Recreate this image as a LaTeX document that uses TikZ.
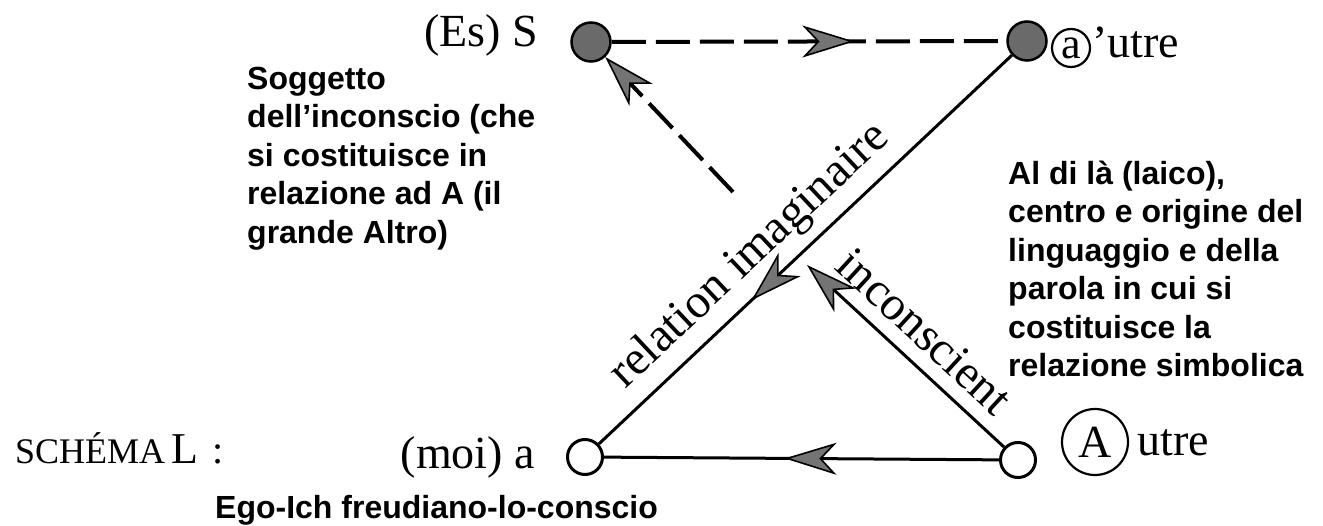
\documentclass[tikz,border=0pt]{standalone}
\usepackage{fontspec}
\setmainfont{Liberation Serif}
\newfontfamily\boldsans{Liberation Sans}
\usetikzlibrary{arrows.meta,decorations.markings}
\definecolor{dotgrey}{HTML}{6A6A6A}
\definecolor{tipgrey}{HTML}{747474}
\tikzset{
  bigtip/.tip={Stealth[length=52pt,width=32pt,inset=15pt,line width=1.6pt,fill=tipgrey]},
}
\begin{document}
\begin{tikzpicture}[x=1pt,y=-1pt,
  dotnode/.style={circle,draw=black,line width=2.5pt,fill=dotgrey,minimum size=39pt,inner sep=0pt},
  opennode/.style={circle,draw=black,line width=3pt,fill=white,minimum size=35pt,inner sep=0pt},
  dashline/.style={draw=black,line width=4pt,dash pattern=on 34pt off 10pt},
  solidline/.style={draw=black,line width=3pt},
  sertext/.style={font=\fontsize{46}{46}\selectfont,inner sep=0pt},
  rottext/.style={font=\fontsize{48}{48}\selectfont,inner sep=0pt},
  ringed/.style={circle,draw=black,line width=2.2pt,inner sep=0pt},
  notetext/.style={font=\boldsans\bfseries\fontsize{32}{38.5}\selectfont,inner sep=0pt,align=left},
]
\useasboundingbox (0,0) rectangle (1323,526);

% main nodes
\node[dotnode] (S) at (591,42) {};
\node[dotnode] (ap) at (1027,41) {};
\node[opennode] (m) at (585,457) {};
\node[opennode] (A) at (1018,460) {};
\coordinate (d1) at (733,192);
\coordinate (i1) at (807,265);

% connectors
\draw[dashline,postaction={decorate},
  decoration={markings,mark=at position 0.615 with {\arrow{bigtip}}}] (S) -- (ap);
\draw[dashline,-{bigtip}] (d1) -- (S);
\draw[solidline,postaction={decorate},
  decoration={markings,mark=at position 0.63 with {\arrow{bigtip}}}] (ap) -- (m);
\draw[solidline,postaction={decorate},
  decoration={markings,mark=at position 0.543 with {\arrow{bigtip}}}] (A) -- (m);
\draw[solidline,-{bigtip}] (A) -- (i1);

% serif labels
\node[sertext,anchor=base east] (tS) at (538,47) {(Es) S};
\node[ringed,minimum size=38pt,font=\fontsize{44}{44}\selectfont] (ca) at (1071,48) {a};
\node[sertext,anchor=base west] (tau) at (1092,58) {’utre};
\node[ringed,minimum size=66pt,font=\fontsize{46}{46}\selectfont] (cA) at (1095,442) {A};
\node[sertext,anchor=base west] (tAu) at (1137,456) {utre};
\node[sertext,anchor=base east] (tm) at (535,468) {(moi) a};
\node[sertext,anchor=base west] (schema) at (15,464)
  {{\fontsize{36}{36}\selectfont SCHÉMA}\hspace{6pt}{\fontsize{44}{44}\selectfont L}\hspace{14pt}{\fontsize{40}{40}\selectfont :}};

% rotated labels
\node[rottext,anchor=base,rotate=43.26] (rel) at (758,265) {relation imaginaire};
\node[rottext,anchor=base,rotate=-42.7] (inc) at (914,343) {inconscient};

% notes
\node[notetext,anchor=north west] (n1) at (247,66.5)
  {Soggetto\\dell’inconscio (che\\si costituisce in\\relazione ad A (il\\grande Altro)};
\node[notetext,anchor=north west] (n2) at (1008,160.5)
  {Al di là (laico),\\centro e origine del\\linguaggio e della\\parola in cui si\\costituisce la\\relazione simbolica};
\node[notetext,anchor=base west] (n3) at (215,518) {Ego-Ich freudiano-lo-conscio};
\end{tikzpicture}
\end{document}
